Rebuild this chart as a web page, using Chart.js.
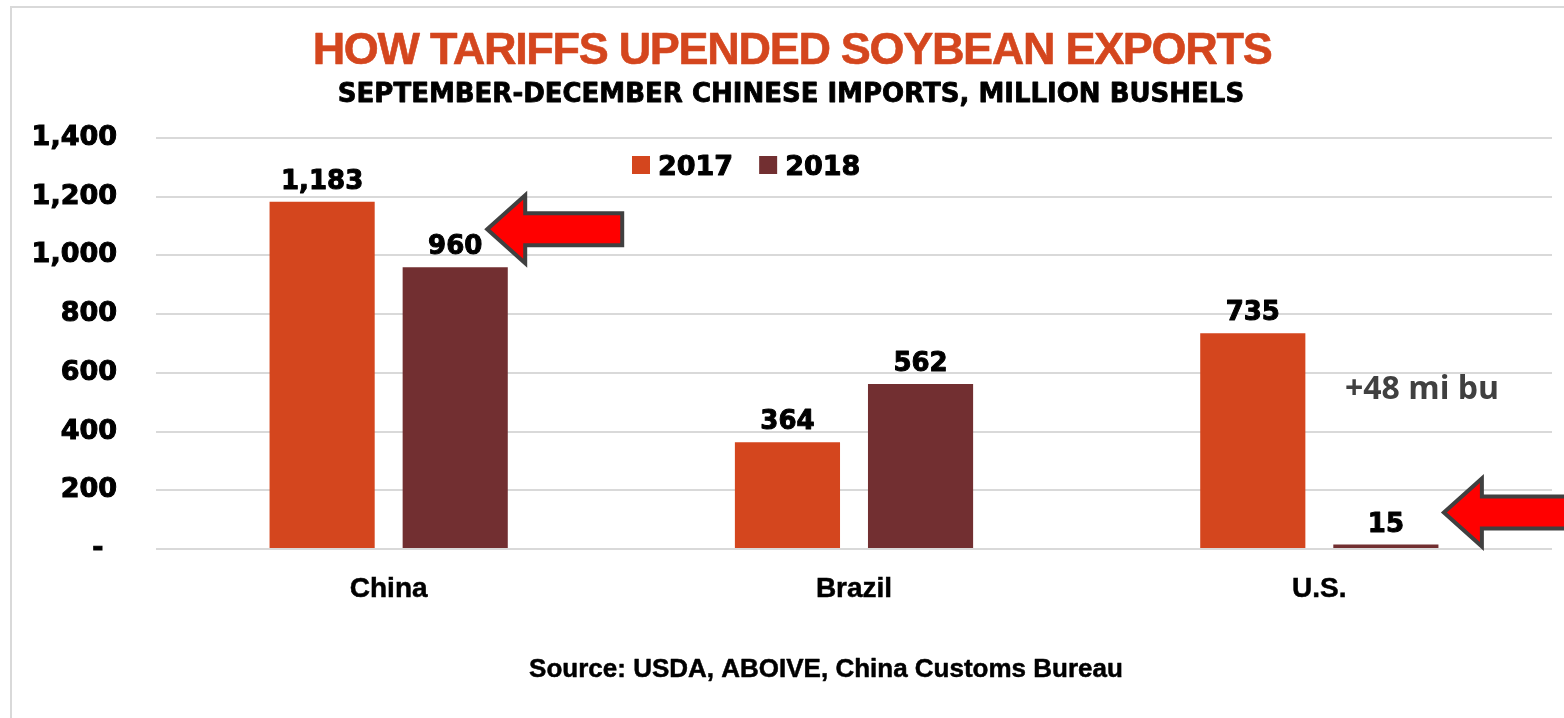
<!DOCTYPE html>
<html>
<head>
<meta charset="utf-8">
<script src="https://cdn.jsdelivr.net/npm/chart.js@4.4.0/dist/chart.umd.min.js"></script>
<style>
  html, body { margin: 0; padding: 0; background: #fff; }
  #wrap { width: 1564px; height: 718px; position: relative; }
</style>
</head>
<body>
<div id="wrap"><canvas id="soyChart" width="1564" height="718"></canvas></div>
<script>
const countries = ["China", "Brazil", "U.S."];
const years = ["2017", "2018"];
const imports2017 = [1183, 364, 735];
const imports2018 = [960, 562, 15];
const yMax = 1400;
const yStep = 200;
const barColors = ["#D4461E", "#722F31"];

const titleText = "HOW TARIFFS UPENDED SOYBEAN EXPORTS";
const subtitleText = "SEPTEMBER-DECEMBER CHINESE IMPORTS, MILLION BUSHELS";
const sourceText = "Source: USDA, ABOIVE, China Customs Bureau";
const usNote = "+48 mi bu";

// arrows point at the 2018 bars that fell (dataset, bar index, offset from bar top, tail length)
const arrows = [
  { ds: 1, i: 0, dx: 32, dy: -38, len: 135 },
  { ds: 1, i: 2, dx: 58, dy: -32, len: 150 },
];

const heavy = "'DejaVu Sans', sans-serif";
const arial = "'Liberation Sans', Arial, sans-serif";

function fmt(v) {
  return v.toLocaleString("en-US");
}

// filled + thin stroke, to get a heavier weight than plain bold
function heavyText(ctx, text, x, y, stroke) {
  ctx.lineWidth = stroke;
  ctx.strokeStyle = ctx.fillStyle;
  ctx.lineJoin = "round";
  ctx.strokeText(text, x, y);
  ctx.fillText(text, x, y);
}

function drawArrow(ctx, tipX, tipY, len) {
  const headLen = 38, headHalf = 34, shaftHalf = 16;
  ctx.save();
  ctx.beginPath();
  ctx.moveTo(tipX, tipY);
  ctx.lineTo(tipX + headLen, tipY - headHalf);
  ctx.lineTo(tipX + headLen, tipY - shaftHalf);
  ctx.lineTo(tipX + len, tipY - shaftHalf);
  ctx.lineTo(tipX + len, tipY + shaftHalf);
  ctx.lineTo(tipX + headLen, tipY + shaftHalf);
  ctx.lineTo(tipX + headLen, tipY + headHalf);
  ctx.closePath();
  ctx.fillStyle = "#FF0000";
  ctx.fill();
  ctx.lineWidth = 4;
  ctx.lineJoin = "miter";
  ctx.strokeStyle = "#404040";
  ctx.stroke();
  ctx.restore();
}

const decorations = {
  id: "decorations",
  beforeDraw(chart) {
    const ctx = chart.ctx;
    ctx.save();
    ctx.fillStyle = "#fff";
    ctx.fillRect(0, 0, chart.width, chart.height);
    // frame along the top and left
    ctx.strokeStyle = "#d9d9d9";
    ctx.lineWidth = 2;
    ctx.beginPath();
    ctx.moveTo(11, chart.height);
    ctx.lineTo(11, 7);
    ctx.lineTo(chart.width, 7);
    ctx.stroke();

    ctx.textAlign = "center";
    ctx.textBaseline = "alphabetic";
    ctx.fillStyle = "#D4461E";
    ctx.font = "bold 45px " + arial;
    ctx.letterSpacing = "-1.3px";
    heavyText(ctx, titleText, 792, 64, 0.6);
    ctx.letterSpacing = "0px";
    ctx.fillStyle = "#000";
    ctx.font = "bold 26px " + heavy;
    heavyText(ctx, subtitleText, 791, 102, 0.8);
    ctx.font = "bold 26px " + arial;
    heavyText(ctx, sourceText, 826, 677, 0.5);

    // legend
    let x = 632;
    ctx.textAlign = "left";
    ctx.font = "bold 27px " + heavy;
    chart.data.datasets.forEach((ds) => {
      ctx.fillStyle = ds.backgroundColor;
      ctx.fillRect(x, 156, 18, 18);
      ctx.fillStyle = "#000";
      heavyText(ctx, ds.label, x + 26, 175, 1);
      x += 26 + ctx.measureText(ds.label).width + 26;
    });
    ctx.restore();
  },
  afterDatasetsDraw(chart) {
    const ctx = chart.ctx;
    ctx.save();
    ctx.font = "bold 26px " + heavy;
    ctx.fillStyle = "#000";
    ctx.textAlign = "center";
    chart.data.datasets.forEach((ds, d) => {
      chart.getDatasetMeta(d).data.forEach((bar, i) => {
        heavyText(ctx, fmt(ds.data[i]), bar.x, bar.y - 13, 1);
      });
    });

    ctx.textAlign = "left";
    ctx.fillStyle = "#404040";
    ctx.font = "bold 32px 'Open Sans', sans-serif";
    ctx.fillText(usNote, 1345, 399);

    arrows.forEach((a) => {
      const bar = chart.getDatasetMeta(a.ds).data[a.i];
      drawArrow(ctx, bar.x + a.dx, bar.y + a.dy, a.len);
    });
    ctx.restore();
  },
};

new Chart(document.getElementById("soyChart"), {
  type: "bar",
  data: {
    labels: countries,
    datasets: [
      { label: years[0], data: imports2017, backgroundColor: barColors[0] },
      { label: years[1], data: imports2018, backgroundColor: barColors[1] },
    ],
  },
  options: {
    responsive: false,
    animation: false,
    devicePixelRatio: 1,
    categoryPercentage: 0.572,
    barPercentage: 0.79,
    layout: { padding: { top: 138, right: 12, left: 0, bottom: 0 } },
    plugins: {
      legend: { display: false },
      title: { display: false },
      tooltip: { enabled: false },
    },
    scales: {
      x: {
        afterFit: (scale) => { scale.height = 169; },
        grid: { display: false, drawTicks: false },
        border: { display: false },
        ticks: {
          color: "#000",
          padding: 23,
          textStrokeColor: "#000",
          textStrokeWidth: 0.5,
          font: { family: arial, size: 28, weight: "bold" },
        },
      },
      y: {
        min: 0,
        max: yMax,
        afterFit: (scale) => { scale.width = 156; },
        grid: { color: "#d9d9d9", lineWidth: 2, drawTicks: false },
        border: { display: false },
        ticks: {
          stepSize: yStep,
          color: "#000",
          padding: 39,
          textStrokeColor: "#000",
          textStrokeWidth: 1,
          font: { family: heavy, size: 27, weight: "bold" },
          callback: (v) => (v === 0 ? "-\u2002" : fmt(v)),
        },
      },
    },
  },
  plugins: [decorations],
});
</script>
</body>
</html>
